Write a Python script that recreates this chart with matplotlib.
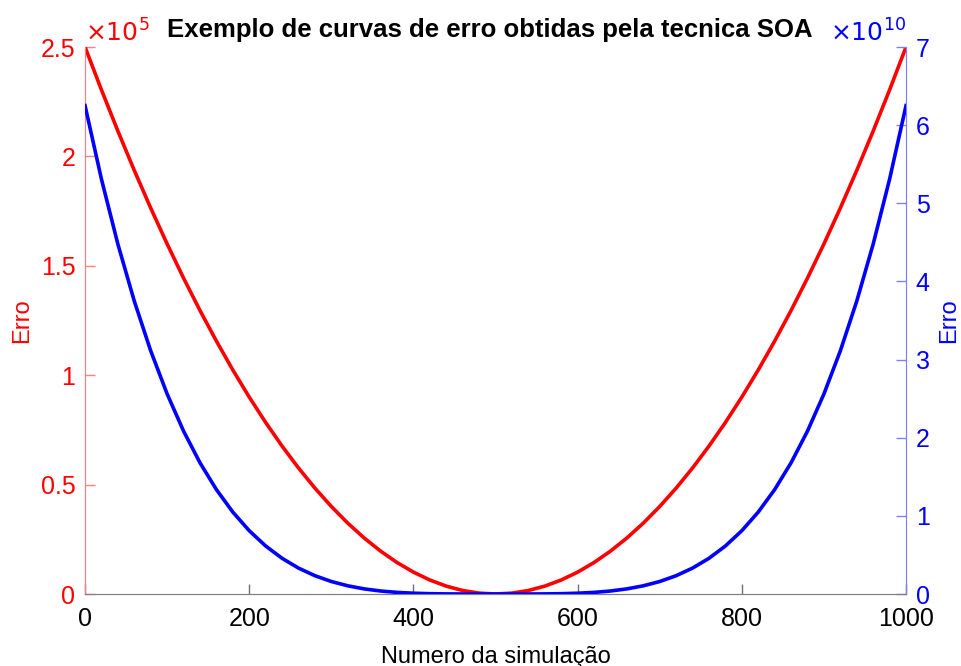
# Curvas de erro: quadratica (eixo esquerdo) e quartica (eixo direito)
import matplotlib
matplotlib.use("Agg")
import matplotlib.pyplot as plt
from matplotlib.ticker import FuncFormatter

plt.rcParams['font.family'] = ['Liberation Sans', 'DejaVu Sans']

# numero da simulacao
sim = list(range(0, 1001, 20))

# erro da curva vermelha (metade esquerda, espelhada em 500)
half_red = [250000, 230400, 211600, 193600, 176400, 160000, 144400, 129600,
            115600, 102400, 90000, 78400, 67600, 57600, 48400, 40000, 32400,
            25600, 19600, 14400, 10000, 6400, 3600, 1600, 400]
erro_red = half_red + [0] + half_red[::-1]

# erro da curva azul, em unidades de 1e10
half_blue = [6.25, 5.3084, 4.4775, 3.7481, 3.1117, 2.56, 2.0851, 1.6796,
             1.3363, 1.0486, 0.81, 0.6147, 0.4570, 0.3318, 0.2343, 0.16,
             0.1050, 0.0655, 0.0384, 0.0207, 0.01, 0.0041, 0.0013, 0.0003,
             0.00002]
erro_blue = [v * 1e10 for v in half_blue + [0] + half_blue[::-1]]

left_ticks = [0, 0.5e5, 1e5, 1.5e5, 2e5, 2.5e5]
right_ticks = [i * 1e10 for i in range(8)]
x_ticks = [0, 200, 400, 600, 800, 1000]

fig = plt.figure(figsize=(9.62, 6.66), dpi=100)
ax = fig.add_axes([0.0884, 0.1081, 0.8534, 0.8213])
ax2 = ax.twinx()

ax.plot(sim, erro_red, color='#ff0000', lw=2.6, zorder=3)
ax2.plot(sim, erro_blue, color='#0000ff', lw=2.6, zorder=3)

ax.set_xlim(0, 1000)
ax.set_ylim(0, 2.5e5)
ax2.set_ylim(0, 7e10)
ax.set_xticks(x_ticks)
ax.set_yticks(left_ticks)
ax2.set_yticks(right_ticks)
ax.yaxis.set_major_formatter(FuncFormatter(lambda v, p: '%g' % (v / 1e5)))
ax2.yaxis.set_major_formatter(FuncFormatter(lambda v, p: '%g' % (v / 1e10)))

for a in (ax, ax2):
    a.spines['top'].set_visible(False)
    a.spines['bottom'].set_color('#808080')
    a.spines['left'].set_color('#ff8080')
    a.spines['right'].set_color('#8080ff')
    a.tick_params(direction='in', length=7, width=1, labelsize=18)

ax.tick_params(axis='x', colors='#707070', labelcolor='black', pad=9)
ax.tick_params(axis='y', colors='#ff8080', labelcolor='#ff0000', pad=7)
ax2.tick_params(axis='y', colors='#8080ff', labelcolor='#0000ff', pad=7)

ax.set_ylabel('Erro', color='#ff0000', fontsize=17, labelpad=5)
ax2.set_ylabel('Erro', color='#0000ff', fontsize=17, labelpad=6)
ax.set_xlabel('Numero da simulação', fontsize=17, labelpad=11)

ax.text(0.0, 1.0, r'$\times10^{5}$', transform=ax.transAxes, color='#ff0000',
        fontsize=18, ha='left', va='bottom')
ax2.text(0.907, 1.0, r'$\times10^{10}$', transform=ax2.transAxes, color='#0000ff',
         fontsize=18, ha='left', va='bottom')

fig.text(0.509, 0.955, 'Exemplo de curvas de erro obtidas pela tecnica SOA',
         fontsize=18.5, fontweight='bold', ha='center', va='center')

fig.savefig('out.png', dpi=100)
